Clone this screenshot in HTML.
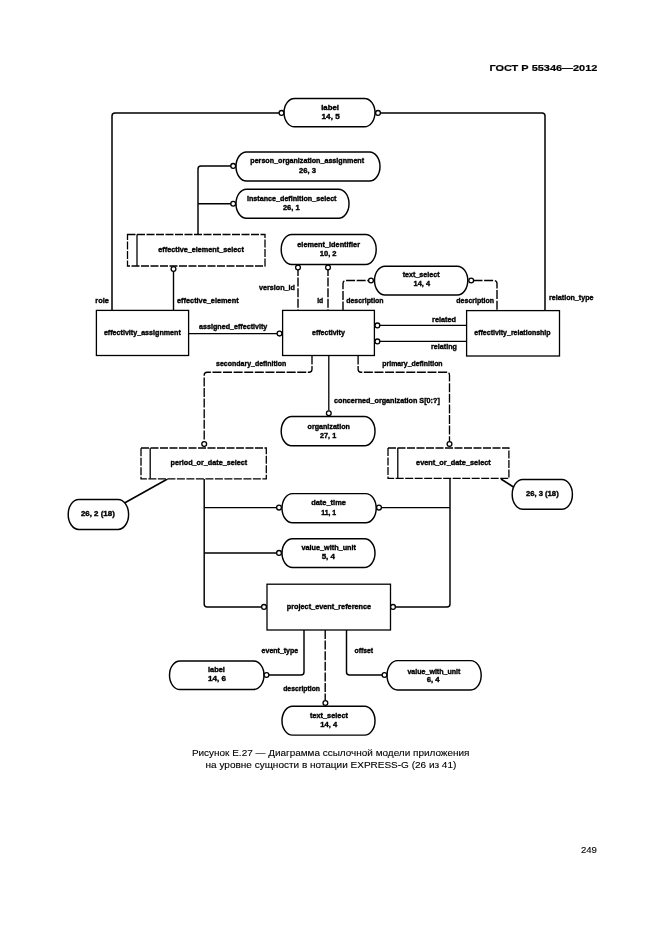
<!DOCTYPE html>
<html><head><meta charset="utf-8"><title>EXPRESS-G</title>
<style>
html,body{margin:0;padding:0;background:#fff;}
body{width:661px;height:935px;overflow:hidden;position:relative;font-family:"Liberation Sans",sans-serif;}
svg{position:absolute;left:0;top:0;will-change:transform;}
svg text{font-family:"Liberation Sans",sans-serif;}
#d text{font-weight:bold;fill:#000;stroke:#000;stroke-width:0.4;}
.b{fill:#fff;stroke:#000;}
.l{fill:none;stroke:#000;}
.cap{fill:#000;stroke:#000;stroke-width:0.12;}
</style></head>
<body>
<svg width="661" height="935" viewBox="0 0 661 935">
<text x="489.4" y="71.1" font-size="9.9" font-weight="bold" textLength="108" lengthAdjust="spacingAndGlyphs" fill="#000" stroke="#000" stroke-width="0.2">ГОСТ Р 55346—2012</text>
<g id="d">
<path d="M279,112.9 L115,112.9 Q112,112.9 112,115.9 L112,310.5" class="l" stroke-width="1.5"/>
<path d="M380.5,112.9 L542,112.9 Q545,112.9 545,115.9 L545,310.5" class="l" stroke-width="1.5"/>
<path d="M233.5,165.9 L201,165.9 Q198,165.9 198,168.9 L198,234" class="l" stroke-width="1.45"/>
<path d="M198,203.8 L233.5,203.8" class="l" stroke-width="1.45"/>
<path d="M173.5,269 L173.5,310.5" class="l" stroke-width="1.4"/>
<path d="M189,333.6 L279.5,333.6" class="l" stroke-width="1.3"/>
<path d="M298,267 L298,310.5" class="l" stroke-width="1.4" stroke-dasharray="9 1.6"/>
<path d="M328,267 L328,310.5" class="l" stroke-width="1.4" stroke-dasharray="9 1.6"/>
<path d="M343,310.5 L343,283.5 Q343,280.5 346,280.5 L369,280.5" class="l" stroke-width="1.4" stroke-dasharray="9 1.6"/>
<path d="M473.5,280.5 L494,280.5 Q497,280.5 497,283.5 L497,310.5" class="l" stroke-width="1.4" stroke-dasharray="9 1.6"/>
<path d="M379,325.4 L466.5,325.4" class="l" stroke-width="1.2"/>
<path d="M379,341.4 L466.5,341.4" class="l" stroke-width="1.2"/>
<path d="M312,355.5 L312,369.2 Q312,372.2 309,372.2 L207.2,372.2 Q204.2,372.2 204.2,375.2 L204.2,441.5" class="l" stroke-width="1.35" stroke-dasharray="9 1.6"/>
<path d="M358.1,355.5 L358.1,369.2 Q358.1,372.2 361.1,372.2 L446.5,372.2 Q449.5,372.2 449.5,375.2 L449.5,441.5" class="l" stroke-width="1.35" stroke-dasharray="9 1.6"/>
<path d="M328.8,355.5 L328.8,410.5" class="l" stroke-width="1.3"/>
<path d="M167.5,479 L124.5,503" class="l" stroke-width="1.6"/>
<path d="M501,479 L513.5,487" class="l" stroke-width="1.6"/>
<path d="M204.2,479 L204.2,603.9 Q204.2,606.9 207.2,606.9 L261.5,606.9" class="l" stroke-width="1.45"/>
<path d="M204.2,507.6 L276.5,507.6" class="l" stroke-width="1.45"/>
<path d="M204.2,552.9 L276.5,552.9" class="l" stroke-width="1.45"/>
<path d="M450,478.5 L450,603.9 Q450,606.9 447,606.9 L395.5,606.9" class="l" stroke-width="1.45"/>
<path d="M381,507.6 L450,507.6" class="l" stroke-width="1.45"/>
<path d="M304,630 L304,672 Q304,675 301,675 L268.5,675" class="l" stroke-width="1.45"/>
<path d="M346.5,630 L346.5,672 Q346.5,675 349.5,675 L382,675" class="l" stroke-width="1.45"/>
<path d="M325.2,630 L325.2,700.5" class="l" stroke-width="1.4" stroke-dasharray="9 1.6"/>
<path d="M294.5,98.4 L364.5,98.4 A10.5,14.2 0 0 1 375,112.6 A10.5,14.2 0 0 1 364.5,126.8 L294.5,126.8 A10.5,14.2 0 0 1 284,112.6 A10.5,14.2 0 0 1 294.5,98.4 Z" class="b" stroke-width="1.45"/>
<text x="321.2" y="110" font-size="8" textLength="17.8" lengthAdjust="spacingAndGlyphs">label</text>
<text x="321.6" y="119.1" font-size="8" textLength="18.1" lengthAdjust="spacingAndGlyphs">14, 5</text>
<path d="M246.5,152 L369.5,152 A10.5,14.5 0 0 1 380,166.5 A10.5,14.5 0 0 1 369.5,181 L246.5,181 A10.5,14.5 0 0 1 236,166.5 A10.5,14.5 0 0 1 246.5,152 Z" class="b" stroke-width="1.45"/>
<text x="250.3" y="163.2" font-size="8" textLength="113.8" lengthAdjust="spacingAndGlyphs">person_organization_assignment</text>
<text x="299" y="172.7" font-size="8" textLength="17" lengthAdjust="spacingAndGlyphs">26, 3</text>
<path d="M246.5,189.2 L338.5,189.2 A10.5,14.5 0 0 1 349,203.7 A10.5,14.5 0 0 1 338.5,218.2 L246.5,218.2 A10.5,14.5 0 0 1 236,203.7 A10.5,14.5 0 0 1 246.5,189.2 Z" class="b" stroke-width="1.45"/>
<text x="247" y="201.1" font-size="8" textLength="89.5" lengthAdjust="spacingAndGlyphs">instance_definition_select</text>
<text x="282.9" y="210.3" font-size="8" textLength="16.7" lengthAdjust="spacingAndGlyphs">26, 1</text>
<rect x="127.5" y="234.5" width="137.5" height="31.5" class="b" stroke-width="1.3" stroke-dasharray="8 1.5"/>
<line x1="137" y1="234.5" x2="137" y2="266" class="l" stroke-width="1.3"/>
<text x="158.3" y="252.4" font-size="8" textLength="85.5" lengthAdjust="spacingAndGlyphs">effective_element_select</text>
<rect x="96.4" y="310.4" width="92.2" height="45.1" class="b" stroke-width="1.3"/>
<text x="103.9" y="334.9" font-size="8" textLength="76.9" lengthAdjust="spacingAndGlyphs">effectivity_assignment</text>
<path d="M291.7,234.5 L365.7,234.5 A10.5,15 0 0 1 376.2,249.5 A10.5,15 0 0 1 365.7,264.5 L291.7,264.5 A10.5,15 0 0 1 281.2,249.5 A10.5,15 0 0 1 291.7,234.5 Z" class="b" stroke-width="1.45"/>
<text x="297.3" y="247" font-size="8" textLength="62.7" lengthAdjust="spacingAndGlyphs">element_identifier</text>
<text x="319.7" y="256.1" font-size="8" textLength="16.9" lengthAdjust="spacingAndGlyphs">10, 2</text>
<path d="M385,266.2 L457.3,266.2 A10.5,14.4 0 0 1 467.8,280.6 A10.5,14.4 0 0 1 457.3,295 L385,295 A10.5,14.4 0 0 1 374.5,280.6 A10.5,14.4 0 0 1 385,266.2 Z" class="b" stroke-width="1.45"/>
<text x="402.7" y="277" font-size="8" textLength="36.9" lengthAdjust="spacingAndGlyphs">text_select</text>
<text x="413.6" y="286.1" font-size="8" textLength="16.4" lengthAdjust="spacingAndGlyphs">14, 4</text>
<rect x="282.6" y="310.4" width="91.8" height="45.1" class="b" stroke-width="1.3"/>
<text x="312" y="334.9" font-size="8" textLength="32.8" lengthAdjust="spacingAndGlyphs">effectivity</text>
<rect x="466.6" y="310.6" width="92.9" height="45.4" class="b" stroke-width="1.3"/>
<text x="474.3" y="335.2" font-size="8" textLength="76.3" lengthAdjust="spacingAndGlyphs">effectivity_relationship</text>
<path d="M291.7,416.5 L364.5,416.5 A10.5,14.65 0 0 1 375,431.15 A10.5,14.65 0 0 1 364.5,445.8 L291.7,445.8 A10.5,14.65 0 0 1 281.2,431.15 A10.5,14.65 0 0 1 291.7,416.5 Z" class="b" stroke-width="1.45"/>
<text x="307.6" y="429.1" font-size="8" textLength="42.3" lengthAdjust="spacingAndGlyphs">organization</text>
<text x="320" y="438" font-size="8" textLength="16.2" lengthAdjust="spacingAndGlyphs">27, 1</text>
<rect x="141" y="448" width="125.3" height="30.8" class="b" stroke-width="1.3" stroke-dasharray="8 1.5"/>
<line x1="150.2" y1="448" x2="150.2" y2="478.8" class="l" stroke-width="1.3"/>
<text x="170.5" y="465.1" font-size="8" textLength="76.7" lengthAdjust="spacingAndGlyphs">period_or_date_select</text>
<rect x="388" y="448" width="120.9" height="30.4" class="b" stroke-width="1.3" stroke-dasharray="8 1.5"/>
<line x1="397.8" y1="448" x2="397.8" y2="478.4" class="l" stroke-width="1.3"/>
<text x="416.1" y="465.1" font-size="8" textLength="74.7" lengthAdjust="spacingAndGlyphs">event_or_date_select</text>
<path d="M78.7,499.4 L118.1,499.4 A10.5,15 0 0 1 128.6,514.4 A10.5,15 0 0 1 118.1,529.4 L78.7,529.4 A10.5,15 0 0 1 68.2,514.4 A10.5,15 0 0 1 78.7,499.4 Z" class="b" stroke-width="1.45"/>
<text x="80.9" y="516.2" font-size="8" textLength="33.9" lengthAdjust="spacingAndGlyphs">26, 2 (18)</text>
<path d="M522.7,479.5 L561.9,479.5 A10.5,14.9 0 0 1 572.4,494.4 A10.5,14.9 0 0 1 561.9,509.3 L522.7,509.3 A10.5,14.9 0 0 1 512.2,494.4 A10.5,14.9 0 0 1 522.7,479.5 Z" class="b" stroke-width="1.45"/>
<text x="525.9" y="496.2" font-size="8" textLength="32.8" lengthAdjust="spacingAndGlyphs">26, 3 (18)</text>
<path d="M292.5,493.6 L365.7,493.6 A10.5,14.6 0 0 1 376.2,508.2 A10.5,14.6 0 0 1 365.7,522.8 L292.5,522.8 A10.5,14.6 0 0 1 282,508.2 A10.5,14.6 0 0 1 292.5,493.6 Z" class="b" stroke-width="1.45"/>
<text x="311.2" y="505.4" font-size="8" textLength="34.7" lengthAdjust="spacingAndGlyphs">date_time</text>
<text x="321.2" y="514.5" font-size="8" textLength="15" lengthAdjust="spacingAndGlyphs">11, 1</text>
<path d="M292.5,538.8 L364.5,538.8 A10.5,14.3 0 0 1 375,553.1 A10.5,14.3 0 0 1 364.5,567.4 L292.5,567.4 A10.5,14.3 0 0 1 282,553.1 A10.5,14.3 0 0 1 292.5,538.8 Z" class="b" stroke-width="1.45"/>
<text x="301.5" y="550.4" font-size="8" textLength="54.5" lengthAdjust="spacingAndGlyphs">value_with_unit</text>
<text x="321.7" y="559.3" font-size="8" textLength="13.3" lengthAdjust="spacingAndGlyphs">5, 4</text>
<rect x="267" y="584.2" width="123.5" height="45.8" class="b" stroke-width="1.3"/>
<text x="286.8" y="608.7" font-size="8" textLength="84.3" lengthAdjust="spacingAndGlyphs">project_event_reference</text>
<path d="M180,661 L253.5,661 A10.5,14.25 0 0 1 264,675.25 A10.5,14.25 0 0 1 253.5,689.5 L180,689.5 A10.5,14.25 0 0 1 169.5,675.25 A10.5,14.25 0 0 1 180,661 Z" class="b" stroke-width="1.45"/>
<text x="208" y="672" font-size="8" textLength="16.9" lengthAdjust="spacingAndGlyphs">label</text>
<text x="208" y="681.1" font-size="8" textLength="18" lengthAdjust="spacingAndGlyphs">14, 6</text>
<path d="M397.5,660.6 L470.7,660.6 A10.5,14.7 0 0 1 481.2,675.3 A10.5,14.7 0 0 1 470.7,690 L397.5,690 A10.5,14.7 0 0 1 387,675.3 A10.5,14.7 0 0 1 397.5,660.6 Z" class="b" stroke-width="1.45"/>
<text x="407.4" y="673.5" font-size="8" textLength="53" lengthAdjust="spacingAndGlyphs">value_with_unit</text>
<text x="426.7" y="681.5" font-size="8" textLength="12.9" lengthAdjust="spacingAndGlyphs">6, 4</text>
<path d="M292.5,706.3 L364.5,706.3 A10.5,14.4 0 0 1 375,720.7 A10.5,14.4 0 0 1 364.5,735.1 L292.5,735.1 A10.5,14.4 0 0 1 282,720.7 A10.5,14.4 0 0 1 292.5,706.3 Z" class="b" stroke-width="1.45"/>
<text x="310" y="717.9" font-size="8" textLength="37.9" lengthAdjust="spacingAndGlyphs">text_select</text>
<text x="320.3" y="727.1" font-size="8" textLength="16.9" lengthAdjust="spacingAndGlyphs">14, 4</text>
<circle cx="281.5" cy="112.9" r="2.4" class="b" stroke-width="1.3"/>
<circle cx="378" cy="112.9" r="2.4" class="b" stroke-width="1.3"/>
<circle cx="233.2" cy="165.9" r="2.4" class="b" stroke-width="1.3"/>
<circle cx="233.2" cy="203.8" r="2.4" class="b" stroke-width="1.3"/>
<circle cx="173.5" cy="269" r="2.4" class="b" stroke-width="1.3"/>
<circle cx="279.5" cy="333.6" r="2.4" class="b" stroke-width="1.3"/>
<circle cx="298" cy="267.5" r="2.4" class="b" stroke-width="1.3"/>
<circle cx="328" cy="267.5" r="2.4" class="b" stroke-width="1.3"/>
<circle cx="371" cy="280.5" r="2.4" class="b" stroke-width="1.3"/>
<circle cx="471.2" cy="280.5" r="2.4" class="b" stroke-width="1.3"/>
<circle cx="377.4" cy="325.4" r="2.4" class="b" stroke-width="1.3"/>
<circle cx="377.4" cy="341.4" r="2.4" class="b" stroke-width="1.3"/>
<circle cx="204.2" cy="444" r="2.4" class="b" stroke-width="1.3"/>
<circle cx="449.5" cy="444" r="2.4" class="b" stroke-width="1.3"/>
<circle cx="328.8" cy="413.2" r="2.4" class="b" stroke-width="1.3"/>
<circle cx="279" cy="507.6" r="2.4" class="b" stroke-width="1.3"/>
<circle cx="379" cy="507.6" r="2.4" class="b" stroke-width="1.3"/>
<circle cx="279" cy="552.9" r="2.4" class="b" stroke-width="1.3"/>
<circle cx="264" cy="606.9" r="2.4" class="b" stroke-width="1.3"/>
<circle cx="393" cy="606.9" r="2.4" class="b" stroke-width="1.3"/>
<circle cx="266.5" cy="675" r="2.4" class="b" stroke-width="1.3"/>
<circle cx="384.5" cy="675" r="2.4" class="b" stroke-width="1.3"/>
<circle cx="325.4" cy="703" r="2.4" class="b" stroke-width="1.3"/>
<text x="95.3" y="303.4" font-size="8" textLength="13.6" lengthAdjust="spacingAndGlyphs">role</text>
<text x="177" y="303.1" font-size="8" textLength="61.6" lengthAdjust="spacingAndGlyphs">effective_element</text>
<text x="199.1" y="329.1" font-size="8" textLength="68.2" lengthAdjust="spacingAndGlyphs">assigned_effectivity</text>
<text x="259.1" y="290.2" font-size="8" textLength="35.9" lengthAdjust="spacingAndGlyphs">version_id</text>
<text x="317.2" y="303.3" font-size="8" textLength="6" lengthAdjust="spacingAndGlyphs">id</text>
<text x="346.2" y="303.1" font-size="8" textLength="37.4" lengthAdjust="spacingAndGlyphs">description</text>
<text x="456.3" y="303.3" font-size="8" textLength="37.8" lengthAdjust="spacingAndGlyphs">description</text>
<text x="549.1" y="299.8" font-size="8" textLength="44.4" lengthAdjust="spacingAndGlyphs">relation_type</text>
<text x="432.1" y="321.8" font-size="8" textLength="24" lengthAdjust="spacingAndGlyphs">related</text>
<text x="431.1" y="349.3" font-size="8" textLength="25.8" lengthAdjust="spacingAndGlyphs">relating</text>
<text x="216.1" y="366.1" font-size="8" textLength="70.2" lengthAdjust="spacingAndGlyphs">secondary_definition</text>
<text x="382.3" y="366.1" font-size="8" textLength="60.3" lengthAdjust="spacingAndGlyphs">primary_definition</text>
<text x="334" y="403.2" font-size="8" textLength="105.8" lengthAdjust="spacingAndGlyphs">concerned_organization S[0:?]</text>
<text x="261.6" y="652.6" font-size="8" textLength="36.6" lengthAdjust="spacingAndGlyphs">event_type</text>
<text x="354.5" y="652.7" font-size="8" textLength="18.5" lengthAdjust="spacingAndGlyphs">offset</text>
<text x="283.2" y="691.4" font-size="8" textLength="36.8" lengthAdjust="spacingAndGlyphs">description</text>
</g>
<text x="191.9" y="756" font-size="9.9" textLength="277.6" lengthAdjust="spacingAndGlyphs" class="cap">Рисунок Е.27 — Диаграмма ссылочной модели приложения</text>
<text x="205.6" y="767.8" font-size="9.6" textLength="250.7" lengthAdjust="spacingAndGlyphs" class="cap">на уровне сущности в нотации EXPRESS-G (26 из 41)</text>
<text x="580.9" y="853" font-size="9.8" textLength="16" lengthAdjust="spacingAndGlyphs" class="cap">249</text>
</svg>
</body></html>
